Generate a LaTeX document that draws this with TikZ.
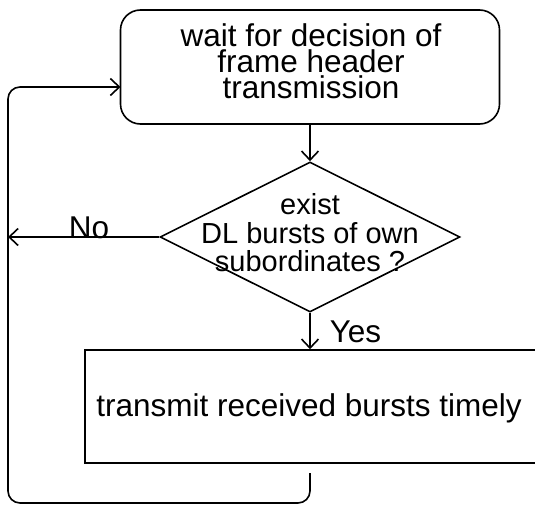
\documentclass[tikz,border=0pt]{standalone}
\usepackage{fontspec}
\setmainfont{Liberation Sans}
\usetikzlibrary{arrows.meta,shapes.geometric}
\begin{document}
\begin{tikzpicture}[x=1pt,y=-1pt,line width=1.6pt,
  flow/.style={-{Straight Barb[length=9pt,width=17pt]}},
  outline/.style={draw,inner sep=0pt},
  txt/.style={inner sep=0pt,align=center},
  big/.style={font=\fontsize{31.5pt}{26pt}\selectfont},
  small/.style={font=\fontsize{29pt}{28.5pt}\selectfont}]
\useasboundingbox (0,0) rectangle (535,505);

% boxes
\node[outline,rounded corners=20pt,minimum width=379pt,minimum height=114pt] (waitbox) at (310,67) {};
\node[txt,big] (waittxt) at (311,61.5) {wait for decision of\\frame header\\transmission};

\node[outline,diamond,minimum width=300pt,minimum height=150pt] (decide) at (310,237) {};
\node[txt,small] (decidetxt) at (310,233) {exist\\DL bursts of own\\subordinates ?};

\node[outline,minimum width=460pt,minimum height=113pt] (sendbox) at (315,406.5) {};
\node[txt,big,anchor=base] (sendtxt) at (309,416.7) {transmit received bursts timely};

% branch labels
\node[txt,big,anchor=base west] (nolbl) at (68,238) {No};
\node[txt,big,anchor=base west] (yeslbl) at (329,342) {Yes};

% free ends of the loop
\coordinate (noend) at (8,237);
\coordinate (loopstart) at (310,473);
\coordinate (loopcorner) at (8,503);
\coordinate (entry) at (120.5,87);

% connectors
\draw[flow] (waitbox.south) -- (decide.north);
\draw[flow] (decide.west) -- (noend);
\draw[flow] (decide.south) -- (decide.south |- sendbox.north);
\draw[flow,rounded corners=12pt] (loopstart) |- (loopcorner) |- (entry);
\end{tikzpicture}
\end{document}
